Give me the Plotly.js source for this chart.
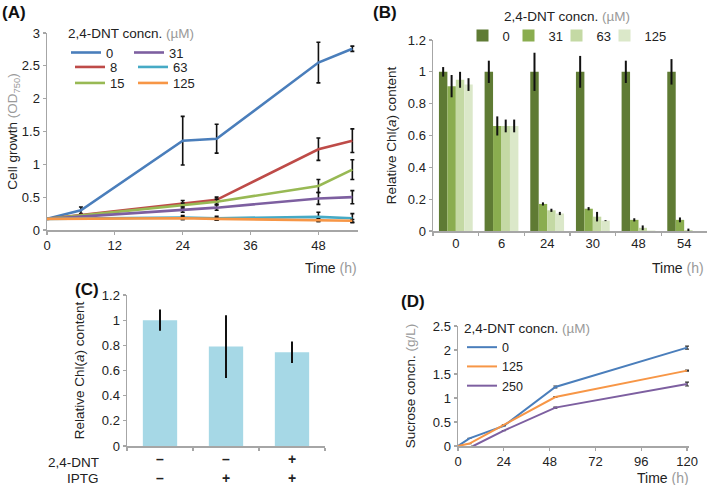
<!DOCTYPE html>
<html><head><meta charset="utf-8">
<script src="https://cdn.plot.ly/plotly-3.0.1.min.js"></script>
<style>html,body{margin:0;padding:0;background:#fff}#chart{width:709px;height:485px}</style>
</head><body><div id="chart"></div>
<script>
// ---------- Panel A: cell growth ----------
const timeA0 = [0, 6, 24, 30, 48, 54];
const timeA = [0, 24, 30, 48, 54];
const concA = ['0', '8', '15', '31', '63', '125'];
const growth0 = [0.17, 0.30, 1.36, 1.39, 2.55, 2.76];
const growth0Err = [0.0, 0.05, 0.37, 0.22, 0.31, 0.04];
const growth8 = [0.17, 0.41, 0.46, 1.23, 1.36];
const growth8Err = [0.0, 0.04, 0.04, 0.17, 0.18];
const growth15 = [0.17, 0.37, 0.43, 0.67, 0.92];
const growth15Err = [0.0, 0.04, 0.04, 0.10, 0.15];
const growth31 = [0.17, 0.31, 0.34, 0.48, 0.50];
const growth31Err = [0.0, 0.04, 0.04, 0.09, 0.10];
const growth63 = [0.17, 0.19, 0.18, 0.20, 0.18];
const growth63Err = [0.0, 0.03, 0.03, 0.07, 0.07];
const growth125 = [0.17, 0.18, 0.17, 0.15, 0.14];
const growth125Err = [0.0, 0.02, 0.02, 0.02, 0.02];

// ---------- Panel B: relative Chl(a) ----------
const timeB = ['0', '6', '24', '30', '48', '54'];
const concB = ['0', '31', '63', '125'];
const chlB0 = [1.0, 1.0, 1.0, 1.0, 1.0, 1.0];
const chlB0Err = [0.03, 0.07, 0.12, 0.10, 0.07, 0.08];
const chlB31 = [0.91, 0.66, 0.17, 0.14, 0.07, 0.07];
const chlB31Err = [0.07, 0.06, 0.01, 0.01, 0.01, 0.015];
const chlB63 = [0.95, 0.66, 0.13, 0.09, 0.02, 0.005];
const chlB63Err = [0.05, 0.04, 0.01, 0.03, 0.015, 0.01];
const chlB125 = [0.92, 0.66, 0.11, 0.065, 0.003, 0.0];
const chlB125Err = [0.04, 0.04, 0.01, 0.003, 0.0, 0.0];

// ---------- Panel C ----------
const dntSigns = ['–', '–', '+'];
const iptgSigns = ['–', '+', '+'];
const chlC = [1.0, 0.79, 0.745];
const chlCErr = [0.085, 0.25, 0.085];

// ---------- Panel D: sucrose ----------
const concD = ['0', '125', '250'];
const timeD0 = [0, 6, 24, 51, 120];
const sucrose0 = [0, 0.16, 0.42, 1.23, 2.05];
const sucrose0Err = [0, 0, 0, 0.02, 0.03];
const timeD125 = [0, 6, 24, 51, 120];
const sucrose125 = [0, 0.05, 0.44, 1.02, 1.57];
const sucrose125Err = [0, 0, 0, 0.01, 0.01];
const timeD250 = [8, 24, 51, 120];
const sucrose250 = [0, 0.32, 0.80, 1.29];
const sucrose250Err = [0, 0, 0.01, 0.04];

const FONT = '"Liberation Sans Narrow", "Arial Narrow", "Liberation Sans", Arial, sans-serif';
const TXT = '#222';
const GREY = '#9a9a9a';
const AXC = '#a6a6a6';
const FS = 13;

const colA = {'0':'#4a7ebb','8':'#be4b48','15':'#98b954','31':'#7d5fa0','63':'#46aac5','125':'#f79646'};
// legend rows: (0, 31), (8, 63), (15, 125)
const legA = {'0':'legend','31':'legend','8':'legend4','63':'legend4','15':'legend5','125':'legend5'};
const rankA = {'0':1,'31':2,'8':1,'63':2,'15':1,'125':2};
const colB = ['#5f7b34', '#8aad4f', '#c4d9a4', '#dbe8c9'];
const legWB = [1, 3, 3, 22];
const colD = ['#4a7ebb', '#f79646', '#7d5fa0'];

const growthSeries = [growth0, growth8, growth15, growth31, growth63, growth125];
const growthErr = [growth0Err, growth8Err, growth15Err, growth31Err, growth63Err, growth125Err];

const traces = [];
concA.forEach((c, i) => {
  traces.push({
    type: 'scatter', mode: 'lines', name: c,
    x: i === 0 ? timeA0 : timeA, y: growthSeries[i],
    error_y: {type: 'data', array: growthErr[i], visible: true, color: '#111', thickness: 1.6, width: 2},
    line: {color: colA[c], width: 2.6},
    xaxis: 'x', yaxis: 'y', legend: legA[c], legendrank: rankA[c]
  });
});
const chlBSeries = [chlB0, chlB31, chlB63, chlB125];
const chlBErr = [chlB0Err, chlB31Err, chlB63Err, chlB125Err];
concB.forEach((c, i) => {
  traces.push({
    type: 'bar', name: c, x: timeB, y: chlBSeries[i],
    marker: {color: colB[i]},
    error_y: {type: 'data', array: chlBErr[i], visible: true, color: '#111', thickness: 2, width: 0},
    xaxis: 'x2', yaxis: 'y2', legend: 'legend2', legendwidth: legWB[i]
  });
});
const catsC = dntSigns.map((d, i) => d + '/' + iptgSigns[i]);
traces.push({
  type: 'bar', x: catsC, y: chlC, width: 0.52, showlegend: false,
  marker: {color: '#a6d8e6'},
  error_y: {type: 'data', array: chlCErr, visible: true, color: '#111', thickness: 2, width: 0},
  xaxis: 'x3', yaxis: 'y3'
});
const sucT = [timeD0, timeD125, timeD250];
const sucV = [sucrose0, sucrose125, sucrose250];
const sucE = [sucrose0Err, sucrose125Err, sucrose250Err];
concD.forEach((c, i) => {
  traces.push({
    type: 'scatter', mode: 'lines', name: c, x: sucT[i], y: sucV[i],
    line: {color: colD[i], width: 2},
    error_y: {type: 'data', array: sucE[i], visible: true, color: '#333', thickness: 1.2, width: 2},
    xaxis: 'x4', yaxis: 'y4', legend: 'legend3'
  });
});

const W = 709, H = 485;
const dx = (a, b) => [a / W, b / W];
const dy = (top, bot) => [1 - bot / H, 1 - top / H];

const axBase = {
  showline: true, linecolor: AXC, linewidth: 1.5, showgrid: false, zeroline: false,
  ticks: 'outside', ticklen: 3, tickcolor: AXC, tickwidth: 1.2,
  tickfont: {family: FONT, size: FS, color: TXT}
};
const ytitle = (t, s) => ({text: t, font: {family: FONT, size: 13.5, color: TXT}, standoff: s});
const concTitle = '2,4-DNT concn. <span style="color:' + GREY + '">(µM)</span>';
const legFont = {family: FONT, size: FS, color: TXT};
const legTitleFont = {family: FONT, size: 13.5, color: TXT};
const rowLegend = (left, top, withTitle) => {
  const o = {
    x: left / W, y: 1 - top / H, xanchor: 'left', yanchor: 'top', orientation: 'h',
    entrywidth: 18, itemwidth: 30, bgcolor: 'rgba(0,0,0,0)', font: legFont
  };
  if (withTitle) o.title = {text: concTitle, side: 'top', font: legTitleFont};
  return o;
};

const layout = {
  width: W, height: H,
  margin: {l: 0, r: 0, t: 0, b: 0},
  paper_bgcolor: '#fff', plot_bgcolor: 'rgba(0,0,0,0)',
  font: {family: FONT, color: TXT},
  bargap: 0.26, bargroupgap: 0, barmode: 'group',
  xaxis: Object.assign({}, axBase, {domain: dx(47, 358), range: [0, 55], tickvals: [0, 12, 24, 36, 48], anchor: 'y'}),
  yaxis: Object.assign({}, axBase, {domain: dy(33, 230), range: [0, 3], dtick: 0.5, anchor: 'x',
    title: ytitle('Cell growth <span style="color:' + GREY + '">(OD<sub>750</sub>)</span>', 1)}),
  xaxis2: Object.assign({}, axBase, {domain: dx(433, 707), type: 'category', tickson: 'boundaries', anchor: 'y2'}),
  yaxis2: Object.assign({}, axBase, {domain: dy(40, 231), range: [0, 1.2], dtick: 0.2, anchor: 'x2',
    title: ytitle('Relative Chl(<i>a</i>) content', 8)}),
  xaxis3: Object.assign({}, axBase, {domain: dx(127, 325), type: 'category', tickson: 'boundaries', anchor: 'y3',
    tickvals: catsC, ticktext: dntSigns.map((d, i) => '<b>' + d + '</b><br><b>' + iptgSigns[i] + '</b>'),
    tickfont: {family: FONT, size: 14, color: TXT}}),
  yaxis3: Object.assign({}, axBase, {domain: dy(295, 446), range: [0, 1.2], dtick: 0.2, anchor: 'x3',
    title: ytitle('Relative Chl(<i>a</i>) content', 14)}),
  xaxis4: Object.assign({}, axBase, {domain: dx(458, 689), range: [0, 121], tickvals: [0, 24, 48, 72, 96, 120], anchor: 'y4'}),
  yaxis4: Object.assign({}, axBase, {domain: dy(326, 446), range: [0, 2.5], dtick: 0.5, anchor: 'x4',
    title: ytitle('Sucrose concn. <span style="color:' + GREY + '">(g/L)</span>', 14)}),
  legend: rowLegend(66, 20, true),
  legend4: rowLegend(70, 52, false),
  legend5: rowLegend(70, 68, false),
  legend2: {
    x: 567 / W, y: 1 - 3 / H, xanchor: 'center', yanchor: 'top', orientation: 'h',
    bgcolor: 'rgba(0,0,0,0)', itemwidth: 30, font: legFont,
    title: {text: concTitle, side: 'top center', font: legTitleFont}
  },
  legend3: {
    x: 462 / W, y: 1 - 315 / H, xanchor: 'left', yanchor: 'top', orientation: 'v',
    bgcolor: 'rgba(0,0,0,0)', itemwidth: 30, font: {family: FONT, size: 12.5, color: TXT},
    title: {text: concTitle, side: 'top', font: legTitleFont}
  },
  annotations: [
    {text: '<b>(A)</b>', x: 0, y: 1 - 1 / H, xanchor: 'left', yanchor: 'top'},
    {text: '<b>(B)</b>', x: 371 / W, y: 1 - 1 / H, xanchor: 'left', yanchor: 'top'},
    {text: '<b>(C)</b>', x: 73 / W, y: 1 - 278 / H, xanchor: 'left', yanchor: 'top'},
    {text: '<b>(D)</b>', x: 399 / W, y: 1 - 290 / H, xanchor: 'left', yanchor: 'top'}
  ].map(a => Object.assign(a, {xref: 'paper', yref: 'paper', showarrow: false, font: {family: FONT, size: 17, color: '#111'}}))
  .concat([
    {text: 'Time <span style="color:' + GREY + '">(h)</span>', x: 359 / W, y: 1 - 268 / H},
    {text: 'Time <span style="color:' + GREY + '">(h)</span>', x: 706 / W, y: 1 - 268 / H},
    {text: 'Time <span style="color:' + GREY + '">(h)</span>', x: 691 / W, y: 1 - 478 / H}
  ].map(a => Object.assign(a, {xref: 'paper', yref: 'paper', xanchor: 'right', yanchor: 'middle', showarrow: false, font: {family: FONT, size: 14, color: TXT}})))
  .concat([
    {text: '2,4-DNT', x: 101 / W, y: 1 - 462 / H},
    {text: 'IPTG', x: 101 / W, y: 1 - 478 / H}
  ].map(a => Object.assign(a, {xref: 'paper', yref: 'paper', xanchor: 'right', yanchor: 'middle', showarrow: false, font: {family: FONT, size: 13.5, color: TXT}})))
};

Plotly.newPlot('chart', traces, layout, {staticPlot: true, displayModeBar: false});
</script>
</body></html>
